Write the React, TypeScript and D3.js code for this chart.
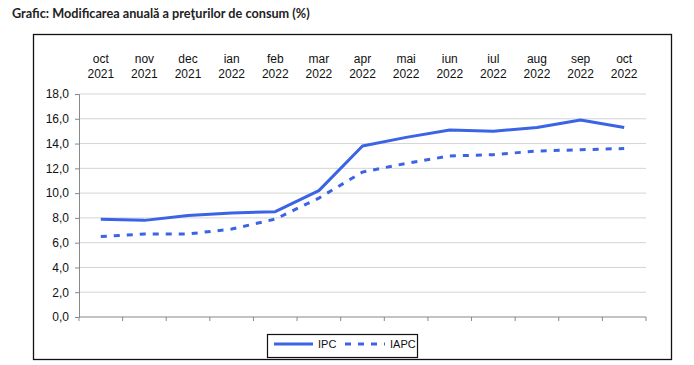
import React, { useEffect, useRef } from 'react';
import * as d3 from 'd3';

const months = ['oct', 'nov', 'dec', 'ian', 'feb', 'mar', 'apr', 'mai', 'iun', 'iul', 'aug', 'sep', 'oct'];
const years = ['2021', '2021', '2021', '2022', '2022', '2022', '2022', '2022', '2022', '2022', '2022', '2022', '2022'];
const ipc = [7.9, 7.8, 8.2, 8.4, 8.5, 10.2, 13.8, 14.5, 15.1, 15.0, 15.3, 15.9, 15.3];
const iapc = [6.5, 6.7, 6.7, 7.1, 7.9, 9.6, 11.7, 12.4, 13.0, 13.1, 13.4, 13.5, 13.6];
const yTicks = [0, 2, 4, 6, 8, 10, 12, 14, 16, 18];

const BLUE = '#3b63e6';
const FONT = '"Liberation Sans", Arial, sans-serif';

const App = () => {
    const ref = useRef<SVGSVGElement>(null);

    useEffect(() => {
        const svg = d3.select(ref.current);
        svg.selectAll('*').remove();

        const left = 79, right = 646, top = 94, bottom = 317;
        const keys = months.map((m, i) => i);

        // title
        svg.append('text')
            .attr('x', 12)
            .attr('y', 18)
            .attr('font-family', 'Lato, "Open Sans", sans-serif')
            .attr('font-weight', 'bold')
            .attr('font-size', '12.7px')
            .attr('fill', '#222')
            .text('Grafic: Modificarea anuală a preţurilor de consum (%)');

        // outer frame
        svg.append('rect')
            .attr('x', 33.5)
            .attr('y', 34.5)
            .attr('width', 638)
            .attr('height', 325)
            .attr('fill', 'white')
            .attr('stroke', '#111')
            .attr('stroke-width', 1.3);

        const x = d3.scaleBand<number>().domain(keys).range([left, right]);
        const y = d3.scaleLinear().domain([0, 18]).range([bottom, top]);

        // gridlines
        svg.append('g')
            .selectAll('line')
            .data(yTicks.filter(d => d > 0))
            .join('line')
            .attr('x1', left)
            .attr('x2', right)
            .attr('y1', d => y(d))
            .attr('y2', d => y(d))
            .attr('stroke', '#d4d4d4')
            .attr('stroke-width', 1);

        // y axis
        const yAxis = svg.append('g')
            .attr('transform', `translate(${left},0)`)
            .call(d3.axisLeft(y).tickValues(yTicks).tickSize(4).tickPadding(6)
                .tickFormat(d => (d as number).toFixed(1).replace('.', ',')));
        yAxis.attr('font-family', FONT).attr('font-size', 12);
        yAxis.select('.domain').attr('stroke', '#888');
        yAxis.selectAll('line').attr('stroke', '#888');
        yAxis.selectAll('text').attr('fill', '#111');

        // x axis: ticks at band edges
        const edges = keys.map(k => x(k) as number).concat([right]);
        svg.append('line')
            .attr('x1', left).attr('x2', right)
            .attr('y1', bottom).attr('y2', bottom)
            .attr('stroke', '#888').attr('stroke-width', 1.2);
        svg.append('g')
            .selectAll('line')
            .data(edges)
            .join('line')
            .attr('x1', d => d).attr('x2', d => d)
            .attr('y1', bottom).attr('y2', bottom + 4)
            .attr('stroke', '#888');

        // category labels on top
        const lab = svg.append('g')
            .attr('font-family', FONT)
            .attr('font-size', 12)
            .attr('fill', '#111')
            .attr('text-anchor', 'middle');
        keys.forEach(k => {
            const cx = (x(k) as number) + x.bandwidth() / 2;
            lab.append('text').attr('x', cx).attr('y', 63).text(months[k]);
            lab.append('text').attr('x', cx).attr('y', 78).text(years[k]);
        });

        const line = d3.line<number>()
            .x((d, i) => (x(i) as number) + x.bandwidth() / 2)
            .y(d => y(d));

        svg.append('path')
            .datum(iapc)
            .attr('fill', 'none')
            .attr('stroke', BLUE)
            .attr('stroke-width', 3)
            .attr('stroke-dasharray', '6,7')
            .attr('d', line);

        svg.append('path')
            .datum(ipc)
            .attr('fill', 'none')
            .attr('stroke', BLUE)
            .attr('stroke-width', 3)
            .attr('stroke-linejoin', 'round')
            .attr('d', line);

        // legend
        const lg = svg.append('g');
        lg.append('rect')
            .attr('x', 267.5).attr('y', 334.5)
            .attr('width', 150).attr('height', 23)
            .attr('fill', 'white')
            .attr('stroke', '#111')
            .attr('stroke-width', 1.2);
        lg.append('line')
            .attr('x1', 274).attr('x2', 313)
            .attr('y1', 344).attr('y2', 344)
            .attr('stroke', BLUE).attr('stroke-width', 3);
        lg.append('line')
            .attr('x1', 345).attr('x2', 385)
            .attr('y1', 344).attr('y2', 344)
            .attr('stroke', BLUE).attr('stroke-width', 3)
            .attr('stroke-dasharray', '6,7');
        lg.selectAll('text')
            .data([['IPC', 318], ['IAPC', 390]])
            .join('text')
            .attr('x', d => d[1] as number)
            .attr('y', 348)
            .attr('font-family', FONT)
            .attr('font-size', 11)
            .attr('fill', '#111')
            .text(d => d[0] as string);
    }, []);

    return (
        <div style={{ position: 'absolute', left: 0, top: 0, background: 'white' }}>
            <svg ref={ref} width={694} height={365} style={{ display: 'block' }} />
        </div>
    );
};

export default App;
